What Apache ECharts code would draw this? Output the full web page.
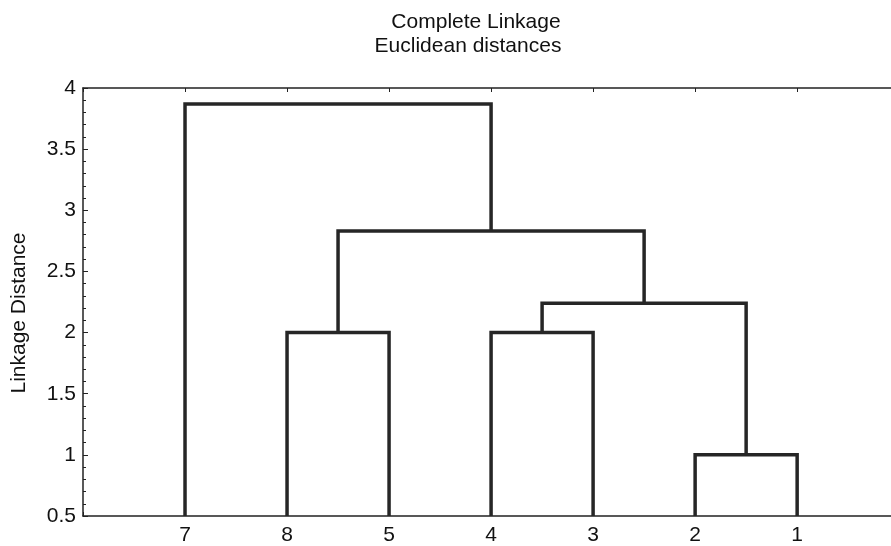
<!DOCTYPE html>
<html>
<head>
<meta charset="utf-8">
<script src="https://cdn.jsdelivr.net/npm/echarts@6/dist/echarts.min.js"></script>
<style>
html,body{margin:0;padding:0;background:#fff;}
#main{width:891px;height:546px;}
</style>
</head>
<body>
<div id="main"></div>
<script>
// Leaf order along the x axis
const leaves = ['7', '8', '5', '4', '3', '2', '1'];
// Merges (cluster ids c1..c6 in order)
const mergeA = ['2', '4', '8', 'c2', 'c3', '7'];
const mergeB = ['1', '3', '5', 'c1', 'c4', 'c5'];
const mergeHeight = [1.0, 2.0, 2.0, 2.24, 2.83, 3.87];
const yTicks = [0.5, 1, 1.5, 2, 2.5, 3, 3.5, 4];

const titleLine1 = 'Complete Linkage';
const titleLine2 = 'Euclidean distances';
const yName = 'Linkage Distance';

const FONT = '"Liberation Sans", Arial, sans-serif';
const baseY = yTicks[0];

// node positions
const pos = {};
const hgt = {};
leaves.forEach((l, i) => { pos[l] = i + 1; hgt[l] = baseY; });
const series = [];
mergeA.forEach((a, i) => {
  const b = mergeB[i];
  const H = mergeHeight[i];
  const id = 'c' + (i + 1);
  pos[id] = (pos[a] + pos[b]) / 2;
  hgt[id] = H;
  series.push({
    type: 'line',
    data: [[pos[a], hgt[a]], [pos[a], H], [pos[b], H], [pos[b], hgt[b]]],
    symbol: 'none',
    lineStyle: { color: '#262626', width: 3.5, join: 'miter' },
    silent: true,
    z: 5
  });
});

const chart = echarts.init(document.getElementById('main'), null, { renderer: 'canvas' });
chart.setOption({
  animation: false,
  backgroundColor: '#ffffff',
  grid: { left: 83, right: 0, top: 88, bottom: 30, containLabel: false },
  xAxis: [{
    type: 'value', min: 0, max: 7.92, interval: 1, position: 'bottom',
    axisLine: { show: true, onZero: false, lineStyle: { color: '#222', width: 1.5 } },
    axisTick: { show: true, inside: true, length: 4, lineStyle: { color: '#222' } },
    splitLine: { show: false },
    axisLabel: {
      margin: 9, fontFamily: FONT, fontSize: 21, color: '#111', showMaxLabel: false,
      formatter: v => (v >= 1 && v <= leaves.length && Number.isInteger(v)) ? leaves[v - 1] : ''
    }
  }, {
    type: 'value', min: 0, max: 7.92, interval: 1, position: 'top',
    axisLine: { show: true, onZero: false, lineStyle: { color: '#222', width: 1.5 } },
    axisTick: { show: true, inside: true, length: 4, lineStyle: { color: '#222' } },
    splitLine: { show: false },
    axisLabel: { show: false }
  }],
  yAxis: {
    type: 'value', min: yTicks[0], max: yTicks[yTicks.length - 1], interval: 0.5,
    axisLine: { show: true, onZero: false, lineStyle: { color: '#222', width: 1.5 } },
    axisTick: { show: true, inside: true, length: 5, lineStyle: { color: '#222' } },
    minorTick: { show: true, splitNumber: 5, length: 3, lineStyle: { color: '#222' } },
    splitLine: { show: false },
    axisLabel: { margin: 7, fontFamily: FONT, fontSize: 21, color: '#111' }
  },
  graphic: [
    { type: 'text', x: 476, y: 22, style: { text: titleLine1, font: '21px ' + FONT, fill: '#111', textAlign: 'center', textVerticalAlign: 'middle' } },
    { type: 'text', x: 468, y: 46, style: { text: titleLine2, font: '21px ' + FONT, fill: '#111', textAlign: 'center', textVerticalAlign: 'middle' } },
    { type: 'text', x: 19, y: 313, rotation: Math.PI / 2, style: { text: yName, font: '21px ' + FONT, fill: '#111', textAlign: 'center', textVerticalAlign: 'middle' } }
  ],
  series: series
});
</script>
</body>
</html>
